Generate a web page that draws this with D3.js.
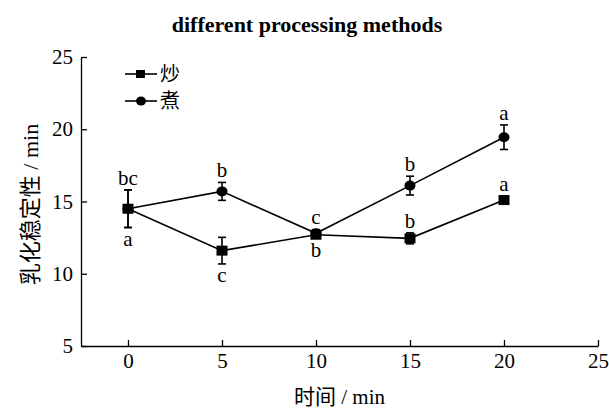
<!DOCTYPE html>
<html lang="zh">
<head>
<meta charset="UTF-8">
<script src="https://d3js.org/d3.v7.min.js"></script>
<style>
  body { margin: 0; background: #fff; }
  .axis path, .axis line { stroke: #000; stroke-width: 1.3; }
  .series path.line { fill: none; stroke: #000; stroke-width: 1.6; }
  .err { stroke: #000; stroke-width: 1.6; }
</style>
</head>
<body>
<svg class="chart"></svg>
<script>

// time (min)
const times = [0, 5, 10, 15, 20];

// 炒
const chaoMean = [14.5, 11.6, 12.7, 12.45, 15.1];
const chaoErr  = [1.3, 0.92, 0.2, 0.38, 0.1];
const chaoSig  = ["a", "c", "b", "b", "a"];
const chaoSigPos = ["below", "below", "below", "above", "above"];

// 煮
const zhuMean = [14.5, 15.7, 12.8, 16.1, 19.45];
const zhuErr  = [1.3, 0.62, 0.25, 0.65, 0.85];
const zhuSig  = ["bc", "b", "c", "b", "a"];
const zhuSigPos = ["above", "above", "above", "above", "above"];

const xTicks = [0, 5, 10, 15, 20, 25];
const yTicks = [5, 10, 15, 20, 25];

const W = 609, H = 409;
const SERIF = '"Liberation Serif", "Times New Roman", serif';
const CJK = '"Liberation Serif", "Noto Sans CJK SC", serif';

let x = d3.scaleLinear()
    .domain([-2.5, 25])
    .range([81, 598]);

let y = d3.scaleLinear()
    .domain([5, 25])
    .range([346, 57]);

let svg = d3.select(".chart")
    .attr("width", W)
    .attr("height", H);

// title
svg.append("text")
    .attr("x", 307)
    .attr("y", 32)
    .attr("text-anchor", "middle")
    .style("font-family", SERIF)
    .style("font-size", "22px")
    .style("font-weight", "bold")
    .text("different processing methods");

// axes, ticks point inward
let xAx = svg.append("g")
    .attr("class", "axis")
    .attr("transform", `translate(0,${y(5)})`)
    .call(d3.axisBottom(x).tickValues(xTicks).tickSizeInner(-6).tickSizeOuter(0).tickPadding(7));

let yAx = svg.append("g")
    .attr("class", "axis")
    .attr("transform", `translate(${x(-2.5)},0)`)
    .call(d3.axisLeft(y).tickValues(yTicks).tickSizeInner(-6).tickSizeOuter(0).tickPadding(8));

svg.selectAll(".axis text")
    .style("font-family", SERIF)
    .style("font-size", "21px")
    .style("fill", "#000");

// axis labels
svg.append("text")
    .attr("x", (x(-2.5) + x(25)) / 2)
    .attr("y", 404)
    .attr("text-anchor", "middle")
    .style("font-family", CJK)
    .style("font-size", "21px")
    .text("时间 / min");

svg.append("text")
    .attr("transform", `translate(38,${(y(5) + y(25)) / 2 + 3}) rotate(-90)`)
    .attr("text-anchor", "middle")
    .style("font-family", CJK)
    .style("font-size", "22px")
    .text("乳化稳定性 / min");

const series = [
  {name: "炒", mean: chaoMean, err: chaoErr, sig: chaoSig, pos: chaoSigPos, shape: "square"},
  {name: "煮", mean: zhuMean, err: zhuErr, sig: zhuSig, pos: zhuSigPos, shape: "circle"}
];

const line = d3.line().x(d => x(d.t)).y(d => y(d.v));

// 煮 first so 炒 squares sit on top
[series[1], series[0]].forEach(s => {
  const pts = times.map((t, i) => ({t, v: s.mean[i], e: s.err[i], sig: s.sig[i], pos: s.pos[i]}));
  const g = svg.append("g").attr("class", "series");

  g.append("path").attr("class", "line").attr("d", line(pts));

  // error bars
  const eb = g.selectAll(".eb").data(pts.filter(d => d.e > 0.15)).enter().append("g");
  eb.append("line").attr("class", "err")
      .attr("x1", d => x(d.t)).attr("x2", d => x(d.t))
      .attr("y1", d => y(d.v + d.e)).attr("y2", d => y(d.v - d.e));
  eb.append("line").attr("class", "err")
      .attr("x1", d => x(d.t) - 4).attr("x2", d => x(d.t) + 4)
      .attr("y1", d => y(d.v + d.e)).attr("y2", d => y(d.v + d.e));
  eb.append("line").attr("class", "err")
      .attr("x1", d => x(d.t) - 4).attr("x2", d => x(d.t) + 4)
      .attr("y1", d => y(d.v - d.e)).attr("y2", d => y(d.v - d.e));

  // markers
  if (s.shape === "square") {
    g.selectAll("rect").data(pts).enter().append("rect")
        .attr("x", d => x(d.t) - 5.5).attr("y", d => y(d.v) - 5)
        .attr("width", 11).attr("height", 10);
  } else {
    g.selectAll("ellipse").data(pts).enter().append("ellipse")
        .attr("cx", d => x(d.t)).attr("cy", d => y(d.v))
        .attr("rx", 5.5).attr("ry", 5);
  }

  // significance letters
  g.selectAll(".sig").data(pts).enter().append("text")
      .attr("x", d => x(d.t))
      .attr("y", d => d.pos === "above"
          ? y(d.v + Math.max(d.e, 0.3)) - 5
          : y(d.v - Math.max(d.e, 0.3)) + 18)
      .attr("text-anchor", "middle")
      .style("font-family", SERIF)
      .style("font-size", "21px")
      .text(d => d.sig);
});

// legend
const legend = svg.append("g");
series.forEach((s, i) => {
  const ly = 74 + i * 27;
  legend.append("line")
      .attr("x1", 125).attr("x2", 157).attr("y1", ly).attr("y2", ly)
      .attr("stroke", "#000").attr("stroke-width", 1.6);
  if (s.shape === "square") {
    legend.append("rect").attr("x", 136).attr("y", ly - 4).attr("width", 9).attr("height", 8);
  } else {
    legend.append("ellipse").attr("cx", 141).attr("cy", ly).attr("rx", 5).attr("ry", 4.5);
  }
  legend.append("text")
      .attr("x", 160).attr("y", ly + 7)
      .style("font-family", CJK)
      .style("font-size", "20px")
      .text(s.name);
});

</script>
</body>
</html>
